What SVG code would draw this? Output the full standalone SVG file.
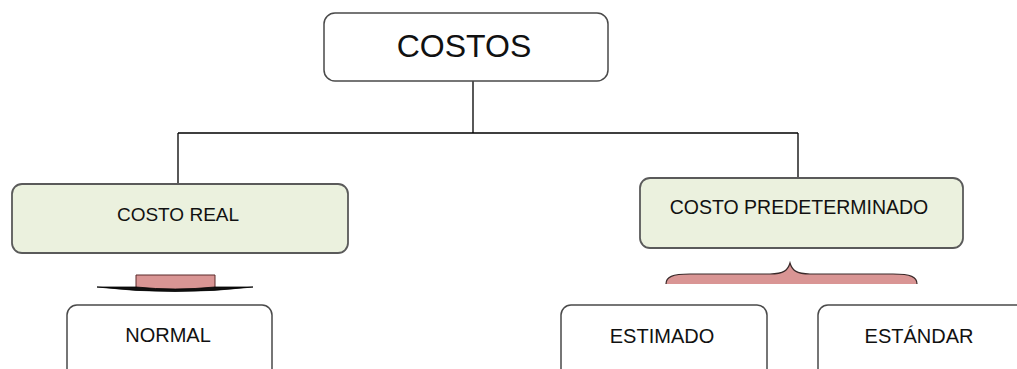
<svg xmlns="http://www.w3.org/2000/svg" width="1017" height="369" viewBox="0 0 1017 369">
<style>
.box{fill:#ffffff;stroke:#4a4a4a;stroke-width:1.5}
.green{fill:#ebf1de;stroke:#5a5a5a;stroke-width:1.8}
.t{font-family:"Liberation Sans",Arial,sans-serif;fill:#111;text-anchor:middle}
.line{stroke:#000;stroke-width:1.3;fill:none}
.pink{fill:#d99594;stroke:#5a2b2b;stroke-width:1}
</style>
<rect width="1017" height="369" fill="#ffffff"/>
<g id="connectors">
<path class="line" d="M473,81 V133 M178,133 H798 M178,133 V184 M798,133 V178"/>
</g>
<g id="costos">
<rect class="box" x="324" y="13" width="284" height="68" rx="11"/>
<text class="t" x="464" y="57" font-size="32">COSTOS</text>
</g>
<g id="costo-real">
<rect class="green" x="12" y="184" width="336" height="69" rx="10"/>
<text class="t" x="178" y="221" font-size="19">COSTO REAL</text>
</g>
<g id="costo-predeterminado">
<rect class="green" x="640" y="178" width="323" height="70" rx="10"/>
<text class="t" x="799" y="214" font-size="19.5">COSTO PREDETERMINADO</text>
</g>
<g id="arrow-real">
<path class="pink" d="M136,289 V275 H215 V289 Q175,292 136,289 Z"/>
<path d="M97,287 L136,287 Q175,291 215,287 L253,287 Q175,296 97,287 Z" fill="#111" stroke="#000" stroke-width="0.8"/>
</g>
<g id="brace-pred">
<path d="M666,284 C666,277 672,274 690,274 L770,274 C784,274 788,270 790,263 C792,270 796,274 810,274 L893,274 C911,274 917,277 917,284 Z" fill="#d99594" stroke="none"/>
<path d="M666,284 C666,277 672,274 690,274 L770,274 C784,274 788,270 790,263 C792,270 796,274 810,274 L893,274 C911,274 917,277 917,284" fill="none" stroke="#3a2a2a" stroke-width="1.2"/>
</g>
<g id="normal">
<rect class="box" x="67" y="305" width="205" height="80" rx="10"/>
<text class="t" x="168" y="342" font-size="20">NORMAL</text>
</g>
<g id="estimado">
<rect class="box" x="561" y="305" width="206" height="80" rx="10"/>
<text class="t" x="662" y="343" font-size="20">ESTIMADO</text>
</g>
<g id="estandar">
<rect class="box" x="818" y="305" width="220" height="80" rx="10"/>
<text class="t" x="919" y="343" font-size="20">ESTÁNDAR</text>
</g>
</svg>
